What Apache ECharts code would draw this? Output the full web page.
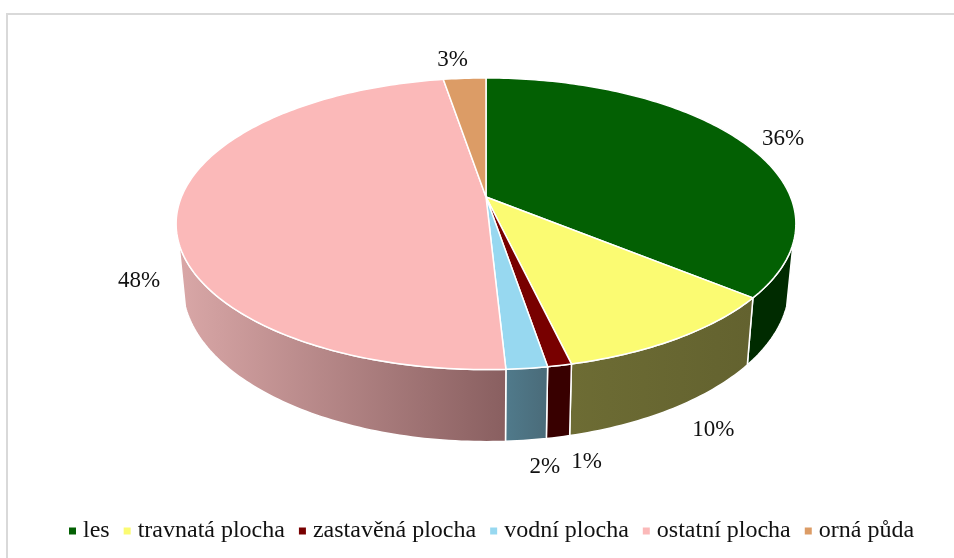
<!DOCTYPE html>
<html>
<head>
<meta charset="utf-8">
<style>
  html, body { margin: 0; padding: 0; background: #fff; }
  #chart { width: 954px; height: 558px; }
</style>
<script src="https://cdn.jsdelivr.net/npm/echarts@6/dist/echarts.min.js"></script>
</head>
<body>
<div id="chart"></div>
<script>
const categories = ['les', 'travnatá plocha', 'zastavěná plocha', 'vodní plocha', 'ostatní plocha', 'orná půda']
const values = [35.9, 10.4, 1.05, 1.8, 48.2, 2.65]
const topColors = ['#036003', '#fbfb72', '#780000', '#97d8f0', '#fbb9b9', '#dc9c66']
// wall shading, left and right end of each slice
const wallColors = [
  ['#002b00', '#002b00'],
  ['#6d6c34', '#63622f'],
  ['#380000', '#380000'],
  ['#507a8b', '#4a6b79'],
  ['#d9a7a7', '#895f60'],
  ['#000000', '#000000'],
]
// label offset from the rim middle of the slice
const labelNudge = [[42, -2], [36, 91], [27, 97], [18, 99], [-38, 68], [-12, -18]]

const serif = '"Liberation Serif", "Times New Roman", serif'
const total = values.reduce((a, b) => a + b, 0)

// pie seen in perspective: apex sits above the middle of the ellipse
const cx = 486
const cy = 197
const R = 304.6
const A = 140.9
const k = 0.1837
const wallFrom = 108
const wallTo = 252

const project = (deg) => {
  const a = deg * Math.PI / 180
  const u = Math.sin(a)
  const v = -Math.cos(a)
  const w = 1 - k * v
  return [cx + R * u / w, cy + A * v / w]
}
const drop = (p) => {
  return [cx + (p[0] - cx) * 0.979, p[1] + 67 + (p[1] - 297) * 0.0694]
}
const arc = (from, to) => {
  const pts = []
  const n = Math.max(2, Math.ceil(to - from))
  for (let i = 0; i <= n; i++) pts.push(project(from + (to - from) * i / n))
  return pts
}

let sum = 0
const spans = values.map((val) => {
  const s = [sum / total * 360, (sum + val) / total * 360]
  sum += val
  return s
})

const renderSlice = (index) => () => {
  const [from, to] = spans[index]
  const children = []
  const wa = Math.max(from, wallFrom)
  const wb = Math.min(to, wallTo)
  if (wb > wa) {
    const rim = arc(wa, wb)
    const xs = rim.map((p) => p[0])
    // arc runs clockwise, so it walks right to left along the front
    children.push({
      type: 'polygon',
      shape: { points: rim.concat(rim.map(drop).reverse()) },
      style: {
        fill: new echarts.graphic.LinearGradient(Math.min(...xs), 0, Math.max(...xs), 0, [
          { offset: 0, color: wallColors[index][0] },
          { offset: 1, color: wallColors[index][1] },
        ], true),
        stroke: '#fff',
        lineWidth: 1.5,
        lineJoin: 'round',
      },
    })
  }
  children.push({
    type: 'polygon',
    z2: 5,
    shape: { points: [[cx, cy]].concat(arc(from, to)) },
    style: { fill: topColors[index], stroke: '#fff', lineWidth: 1.5, lineJoin: 'round' },
  })
  const mid = project((from + to) / 2)
  children.push({
    type: 'text',
    z2: 10,
    x: mid[0] + labelNudge[index][0],
    y: mid[1] + labelNudge[index][1],
    style: {
      text: Math.round(values[index] / total * 100) + '%',
      fill: '#111',
      font: '23px ' + serif,
      align: 'center',
      verticalAlign: 'middle',
    },
  })
  return { type: 'group', children }
}

const options = {
  animation: false,
  backgroundColor: '#fff',
  graphic: [{
    type: 'rect',
    shape: { x: 7, y: 14, width: 960, height: 560 },
    style: { fill: 'none', stroke: '#d9d9d9', lineWidth: 2 },
    silent: true,
  }],
  legend: {
    left: 69,
    top: 519,
    icon: 'rect',
    itemWidth: 7,
    itemHeight: 7,
    itemGap: 14,
    padding: 0,
    textStyle: { fontFamily: serif, fontSize: 24, color: '#111', padding: [0, 0, 0, 2] },
    data: categories,
  },
  series: categories.map((name, index) => ({
    type: 'custom',
    name,
    coordinateSystem: 'none',
    itemStyle: { color: topColors[index] },
    data: [values[index]],
    renderItem: renderSlice(index),
  })),
}

const chart = echarts.init(document.getElementById('chart'))
chart.setOption(options)
window.addEventListener('resize', function () {
  chart && chart.resize()
})
</script>
</body>
</html>
